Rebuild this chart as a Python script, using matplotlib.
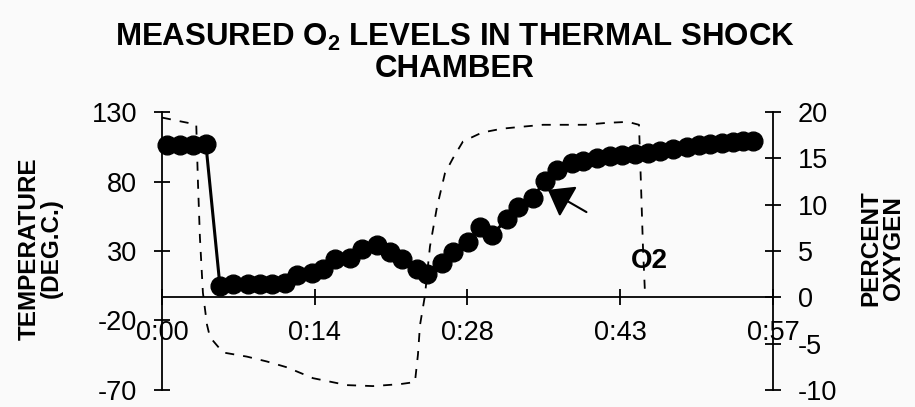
import matplotlib
matplotlib.use("Agg")
from matplotlib import pyplot as plt

plt.rcParams['font.family'] = ['Liberation Sans', 'DejaVu Sans']
plt.rcParams['mathtext.fontset'] = 'custom'
plt.rcParams['mathtext.rm'] = 'Liberation Sans:bold'
plt.rcParams['axes.unicode_minus'] = False

# temperature trace (dashed), deg C, time in minutes
temp_t = [0.0, 1.9, 3.2, 3.36, 3.54, 3.82, 4.2, 4.48, 5.69, 7.93, 9.79, 11.66,
          14.09, 17.26, 19.68, 22.2, 23.6, 23.88, 24.07, 24.53, 25.0, 25.65,
          26.4, 27.15, 28.08, 29.85, 31.72, 33.58, 35.54, 37.6, 39.46, 41.51,
          43.47, 44.5, 44.68, 44.87, 45.06]
temp_c = [126, 123, 121, 79, 40, 0, -23, -32, -43, -46, -49.5, -53.7,
          -61.5, -66.5, -67.2, -65.8, -64.3, -44.6, -23.4, -2.2, 33.2, 61.4,
          86, 96.8, 108.8, 115.2, 118, 119.4, 120.8, 120.8, 120.8, 122.2,
          122.9, 120.8, 79, 33, -0.5]

# oxygen readings (dots), percent
o2_t = [0.47, 1.68, 2.89, 4.10, 5.41, 6.62, 8.02, 9.14, 10.26, 11.47, 12.59,
        14.00, 15.02, 16.14, 17.54, 18.66, 20.06, 21.27, 22.39, 23.79, 24.72,
        26.12, 27.15, 28.54, 29.66, 30.78, 32.18, 33.21, 34.61, 35.73, 36.85,
        38.25, 39.27, 40.58, 41.79, 42.91, 44.12, 45.34, 46.46, 47.67, 48.97,
        50.09, 51.12, 52.24, 53.26, 54.20, 55.13]
o2_pct = [16.4, 16.4, 16.4, 16.5, 1.23, 1.44, 1.44, 1.44, 1.44, 1.55, 2.40,
          2.61, 3.03, 4.09, 4.20, 5.26, 5.68, 4.94, 4.09, 3.03, 2.50,
          3.67, 4.94, 6.00, 7.59, 6.74, 8.44, 9.71, 10.77, 12.58, 13.74,
          14.49, 14.70, 15.02, 15.23, 15.33, 15.44, 15.55, 15.76, 15.97, 16.18,
          16.39, 16.50, 16.61, 16.71, 16.82, 16.82]

x_ticks = [0, 14.25, 28.5, 42.75, 57]
x_labels = ['0:00', '0:14', '0:28', '0:43', '0:57']
temp_ticks = [-70, -20, 30, 80, 130]
o2_ticks = [-10, -5, 0, 5, 10, 15, 20]

fig = plt.figure(figsize=(9.15, 4.07), dpi=100, facecolor='#fafafa')
ax = fig.add_axes([0.1770, 0.0418, 0.6678, 0.6830])
ax.set_facecolor('none')
ax2 = ax.twinx()

ax.plot(temp_t, temp_c, color='black', lw=1.3, linestyle=(0, (5, 5)))
ax2.plot(o2_t, o2_pct, color='black', lw=2.2, marker='o', markersize=13.5,
         clip_on=False)

ax.set_xlim(0, 57)
ax.set_ylim(-70, 130)
ax2.set_ylim(-10, 20)

for s in ['top', 'right']:
    ax.spines[s].set_visible(False)
for s in ['top', 'bottom', 'left']:
    ax2.spines[s].set_visible(False)
ax.spines['bottom'].set_position(('data', -10 / 3))
for s in [ax.spines['left'], ax.spines['bottom'], ax2.spines['right']]:
    s.set_linewidth(1.3)

ax.set_xticks(x_ticks)
ax.set_xticklabels(x_labels)
ax.set_yticks(temp_ticks)
ax2.set_yticks(o2_ticks)
ax.tick_params(axis='x', direction='inout', length=12, width=1.3,
               labelsize=19.5, pad=10)
ax.tick_params(axis='y', direction='inout', length=12, width=1.3,
               labelsize=19.5, pad=12)
ax2.tick_params(axis='y', direction='inout', length=12, width=1.3,
                labelsize=19.5, pad=12)

ax.set_ylabel('TEMPERATURE\n(DEG.C.)', fontsize=17.5, fontweight='bold',
              linespacing=0.95)
ax.yaxis.set_label_coords(-0.163, 0.51)
ax2.set_ylabel('PERCENT\nOXYGEN', fontsize=17.5, fontweight='bold',
               linespacing=0.95, rotation=90)
ax2.yaxis.set_label_coords(1.142, 0.51)

ax2.text(45.5, 3.9, 'O2', fontsize=20, fontweight='bold', ha='center',
         va='center')
ax2.annotate('', xy=(36.0, 11.6), xytext=(39.6, 9.2),
             arrowprops=dict(arrowstyle='-|>,head_length=0.75,head_width=0.55',
                             mutation_scale=20, lw=1.5, color='black',
                             shrinkA=0, shrinkB=0))

fig.text(0.497, 0.907, 'MEASURED O$_2$ LEVELS IN THERMAL SHOCK',
         fontsize=22.5, fontweight='bold', ha='center', va='center')
fig.text(0.497, 0.831, 'CHAMBER', fontsize=22.5, fontweight='bold',
         ha='center', va='center')

fig.savefig('out.png', dpi=100, facecolor=fig.get_facecolor())
